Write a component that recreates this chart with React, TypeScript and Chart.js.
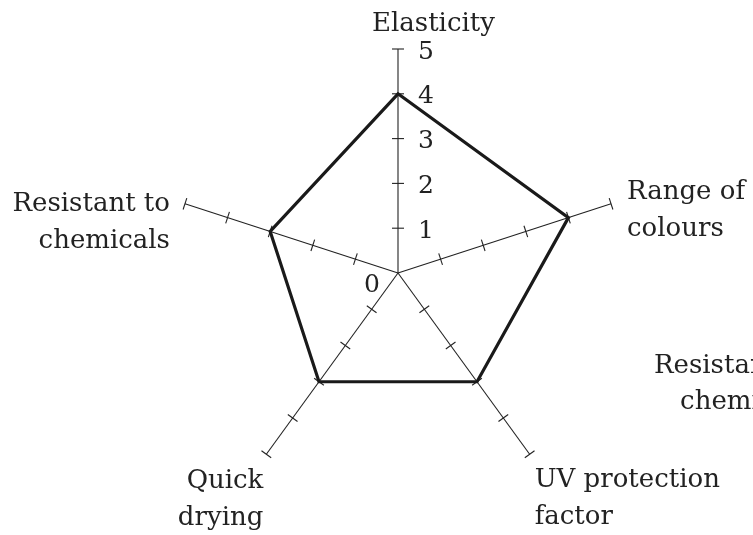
import React, { useEffect, useRef } from "react";
import { Chart, registerables } from "chart.js";

Chart.register(...registerables);

// ---- data ----
const categories: string[][] = [
  ["Elasticity"],
  ["Range of", "colours"],
  ["UV protection", "factor"],
  ["Quick", "drying"],
  ["Resistant to", "chemicals"],
];
const ratings: number[] = [4, 4, 3, 3, 3];
const tickValues: number[] = [1, 2, 3, 4, 5];
const tickLabels: string[] = ["1", "2", "3", "4", "5"];
const zeroLabel = "0";
const ghostLabel: string[] = ["Resistant to", "chemicals"];

const FONT = "26px 'DejaVu Serif'";
const TICK_FONT = "25px 'DejaVu Serif'";
const TEXT_COLOR = "#222";
const LINE_HEIGHT = 37;

// label placement relative to the spoke end (style only)
const labelPlacement = [
  { align: "left", dx: -26, dy: -18 },
  { align: "left", dx: 16, dy: -5 },
  { align: "left", dx: 5, dy: 33 },
  { align: "right", dx: -3, dy: 34 },
  { align: "right", dx: -15, dy: 7 },
];

const axisPlugin = {
  id: "axisDecor",
  beforeDatasetsDraw(chart: any) {
    const scale = chart.scales.r;
    const ctx: CanvasRenderingContext2D = chart.ctx;
    ctx.save();
    ctx.strokeStyle = "#222";
    ctx.lineWidth = 1.1;
    const half = 6;
    for (let i = 0; i < categories.length; i++) {
      for (const v of tickValues) {
        const d = scale.getDistanceFromCenterForValue(v);
        const p = scale.getPointPosition(i, d);
        const a = p.angle + Math.PI / 2;
        ctx.beginPath();
        ctx.moveTo(p.x - Math.cos(a) * half, p.y - Math.sin(a) * half);
        ctx.lineTo(p.x + Math.cos(a) * half, p.y + Math.sin(a) * half);
        ctx.stroke();
      }
    }
    ctx.restore();
  },
  afterDraw(chart: any) {
    const scale = chart.scales.r;
    const ctx: CanvasRenderingContext2D = chart.ctx;
    ctx.save();
    ctx.fillStyle = TEXT_COLOR;
    // tick numbers on first axis
    ctx.font = TICK_FONT;
    ctx.textAlign = "left";
    ctx.textBaseline = "middle";
    tickValues.forEach((v, k) => {
      const p = scale.getPointPosition(0, scale.getDistanceFromCenterForValue(v));
      ctx.fillText(tickLabels[k], p.x + 20, p.y + 3);
    });
    const c = scale.getPointPosition(0, 0);
    ctx.textAlign = "right";
    ctx.fillText(zeroLabel, c.x - 18, c.y + 12);

    // category labels
    ctx.font = FONT;
    ctx.textBaseline = "alphabetic";
    const outer = scale.getDistanceFromCenterForValue(scale.max);
    categories.forEach((lines, i) => {
      const p = scale.getPointPosition(i, outer);
      const pl = labelPlacement[i];
      ctx.textAlign = pl.align as CanvasTextAlign;
      lines.forEach((t, j) => {
        ctx.fillText(t, p.x + pl.dx, p.y + pl.dy + j * LINE_HEIGHT);
      });
    });

    // clipped duplicate label at right edge
    const w0 = ctx.measureText(ghostLabel[0]).width;
    const gx = c.x + 256 + w0;
    ctx.textAlign = "right";
    ghostLabel.forEach((t, j) => {
      ctx.fillText(t, gx, c.y + 100 + j * 36);
    });
    ctx.restore();
  },
};

export default function App() {
  const ref = useRef<HTMLCanvasElement>(null);
  useEffect(() => {
    const chart = new Chart(ref.current!, {
      type: "radar",
      data: {
        labels: categories,
        datasets: [
          {
            data: ratings,
            borderColor: "#1a1a1a",
            borderWidth: 3.2,
            backgroundColor: "transparent",
            fill: false,
            pointRadius: 0,
            pointHoverRadius: 0,
            borderJoinStyle: "miter",
            tension: 0,
          },
        ],
      },
      options: {
        responsive: true,
        maintainAspectRatio: false,
        animation: false,
        layout: { padding: { left: 174, right: 131, top: 49, bottom: 38 } },
        plugins: { legend: { display: false }, tooltip: { enabled: false } },
        scales: {
          r: {
            min: 0,
            max: 5,
            beginAtZero: true,
            grid: { display: false },
            angleLines: { display: true, color: "#222", lineWidth: 1.1 },
            ticks: { display: false, stepSize: 1 },
            pointLabels: { display: false },
          },
        },
      } as any,
      plugins: [axisPlugin],
    });
    return () => chart.destroy();
  }, []);
  return (
    <div style={{ position: "fixed", left: 0, top: 0, width: 753, height: 535, background: "#fff" }}>
      <canvas ref={ref} />
    </div>
  );
}
